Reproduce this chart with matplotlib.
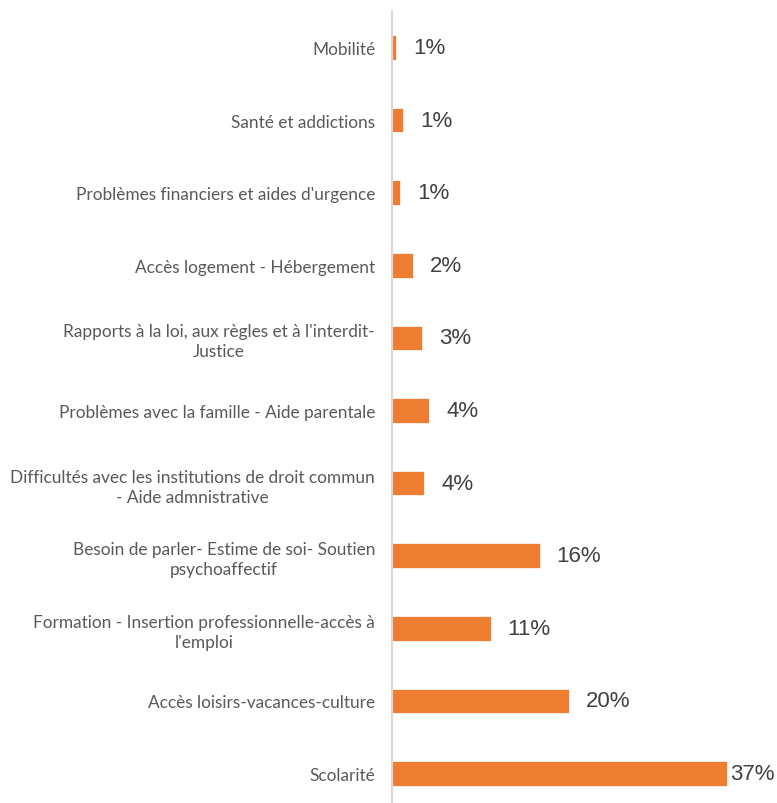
import matplotlib.pyplot as plt

# categories listed top to bottom, as in the chart
categories = [
    "Mobilité",
    "Santé et addictions",
    "Problèmes financiers et aides d'urgence",
    "Accès logement - Hébergement",
    "Rapports à la loi, aux règles et à l'interdit-\nJustice",
    "Problèmes avec la famille - Aide parentale",
    "Difficultés avec les institutions de droit commun\n- Aide admnistrative",
    "Besoin de parler- Estime de soi- Soutien\npsychoaffectif",
    "Formation - Insertion professionnelle-accès à\nl'emploi",
    "Accès loisirs-vacances-culture",
    "Scolarité",
]
values = [0.47, 1.21, 0.92, 2.28, 3.31, 4.12, 3.57, 16.3, 10.9, 19.6, 37.0]
value_labels = ["1%", "1%", "1%", "2%", "3%", "4%", "4%", "16%", "11%", "20%", "37%"]

fig = plt.figure(figsize=(7.77, 8.04), dpi=100)
ax = fig.add_axes([0.5045, -0.0085, 0.466, 0.9933])

y = range(len(categories))
ax.barh(y, values, height=0.34, color="#ED7D31", edgecolor="white", linewidth=0.5)
ax.set_ylim(len(categories) - 0.5, -0.5)
ax.set_xlim(0, 40)

ax.set_yticks(list(y))
ax.set_yticklabels(categories, fontfamily="Lato", fontsize=12.4, color="#595959",
                   multialignment="center", linespacing=1.3)
ax.tick_params(axis="y", length=0, pad=12.2)
ax.xaxis.set_visible(False)

for s in ["top", "right", "bottom"]:
    ax.spines[s].set_visible(False)
ax.spines["left"].set_color("#d9d9d9")
ax.spines["left"].set_linewidth(1.5)

vmax = max(values)
for i, (v, lab) in enumerate(zip(values, value_labels)):
    off = 2.5 if v == vmax else 12.2
    ax.annotate(lab, (v, i), xytext=(off, 0), textcoords="offset points",
                va="center", ha="left", fontsize=16, color="#404040",
                fontfamily="Liberation Sans", annotation_clip=False)

fig.savefig("out.png", dpi=100)
